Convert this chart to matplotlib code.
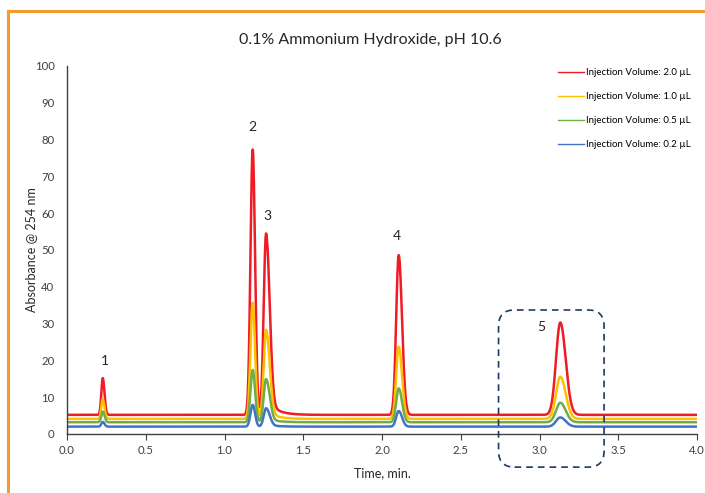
import numpy as np
import matplotlib
matplotlib.use("Agg")
import matplotlib.pyplot as plt
from matplotlib.patches import FancyBboxPatch
from matplotlib.lines import Line2D
from matplotlib.transforms import IdentityTransform

plt.rcParams['font.family'] = ['Lato', 'DejaVu Sans']

# ---------------- data ----------------
series_labels = ["Injection Volume: 2.0 \u00b5L", "Injection Volume: 1.0 \u00b5L",
                 "Injection Volume: 0.5 \u00b5L", "Injection Volume: 0.2 \u00b5L"]
series_colors = ["#EE1C25", "#FFC000", "#70AD47", "#4472C4"]
baselines = [5.2, 4.1, 3.2, 2.0]

# peak retention times (min) and widths (left / right sigma, min)
peak_times = [0.227, 1.179, 1.264, 2.106, 3.132]
peak_sigma_left = [0.009, 0.014, 0.015, 0.016, 0.027]
peak_sigma_right = [0.011, 0.015, 0.022, 0.021, 0.034]
# apex absorbance of each peak for each series
apex_red = [15.2, 77.3, 54.5, 48.6, 30.3]
apex_orange = [9.5, 35.7, 28.3, 23.7, 15.6]
apex_green = [6.1, 17.4, 14.9, 12.4, 8.5]
apex_blue = [3.3, 7.9, 7.0, 6.25, 4.5]
apexes = [apex_red, apex_orange, apex_green, apex_blue]
# slow tail after peak 3 (height above baseline at its start, per series)
tail_start = 1.27
tail_tau = 0.06
tail_heights = [4.0, 2.0, 1.0, 0.5]

peak_labels = ["1", "2", "3", "4", "5"]
peak_label_x = [0.24, 1.18, 1.27, 2.095, 3.01]
peak_label_y = [19.8, 83.4, 59.2, 53.8, 29.1]

x_ticks = [0.0, 0.5, 1.0, 1.5, 2.0, 2.5, 3.0, 3.5, 4.0]
y_ticks = list(range(0, 101, 10))

# ---------------- figure ----------------
fig = plt.figure(figsize=(7.05, 4.93), dpi=100)
ax = fig.add_axes([67 / 705, 59 / 493, 630 / 705, 368 / 493])

t = np.linspace(0.0, 4.0, 4001)
for apex, base, th, col, lab in zip(apexes, baselines, tail_heights, series_colors, series_labels):
    y = np.full_like(t, base)
    for t0, sl, sr, a in zip(peak_times, peak_sigma_left, peak_sigma_right, apex):
        s = np.where(t < t0, sl, sr)
        y += (a - base) * np.exp(-0.5 * ((t - t0) / s) ** 2)
    ramp = np.clip((t - tail_start) / 0.03, 0, 1)
    y += th * ramp * np.exp(-np.clip(t - tail_start, 0, None) / tail_tau)
    ax.plot(t, y, color=col, lw=1.8, label=lab, solid_joinstyle='round')

ax.set_xlim(0, 4.0)
ax.set_ylim(0, 100)
ax.set_xticks(x_ticks)
ax.set_xticklabels([f"{v:.1f}" for v in x_ticks])
ax.set_yticks(y_ticks)
for s in ['top', 'right']:
    ax.spines[s].set_visible(False)
for s in ['left', 'bottom']:
    ax.spines[s].set_color('#404040')
    ax.spines[s].set_linewidth(1.0)
ax.tick_params(axis='x', direction='out', length=4, color='#404040',
               labelsize=8.2, labelcolor='#404040', pad=4)
ax.tick_params(axis='y', length=0, labelsize=8.2, labelcolor='#404040', pad=9)

ax.set_xlabel("Time, min.", fontsize=9, color='#262626', labelpad=8)
ax.set_ylabel("Absorbance @ 254 nm", fontsize=9, color='#262626')
ax.yaxis.set_label_coords(-30 / 630, 0.5)
fig.text(370 / 705, 1 - 40 / 493, "0.1% Ammonium Hydroxide, pH 10.6",
         ha='center', va='center', fontsize=11.5, color='#262626')

for lab, lx, ly in zip(peak_labels, peak_label_x, peak_label_y):
    ax.text(lx, ly, lab, ha='center', va='center', fontsize=10, color='#262626')

leg = ax.legend(loc='upper right', bbox_to_anchor=(1.0, 1.01), frameon=False,
                fontsize=7, handlelength=2.6, handletextpad=0.3,
                labelspacing=1.55, borderaxespad=0.2)
for h in leg.get_lines():
    h.set_linewidth(1.0)

# dashed rounded box around peak 5 (display coordinates)
(x0, y0) = ax.transData.transform((2.74, -9.0))
(x1, y1) = ax.transData.transform((3.41, 33.7))
box = FancyBboxPatch((x0, y0), x1 - x0, y1 - y0,
                     boxstyle="round,pad=0,rounding_size=16",
                     transform=IdentityTransform(), fill=False,
                     edgecolor='#1F3864', lw=1.2, linestyle=(0, (4, 3)),
                     clip_on=False)
fig.add_artist(box)

# orange frame
fig.add_artist(Line2D([8 / 705, 1.0], [1 - 11 / 493, 1 - 11 / 493],
                      transform=fig.transFigure, color='#F39C2C', lw=2.2))
fig.add_artist(Line2D([8 / 705, 8 / 705], [0, 1 - 11 / 493],
                      transform=fig.transFigure, color='#F39C2C', lw=2.2))

fig.savefig("out.png", dpi=100)
